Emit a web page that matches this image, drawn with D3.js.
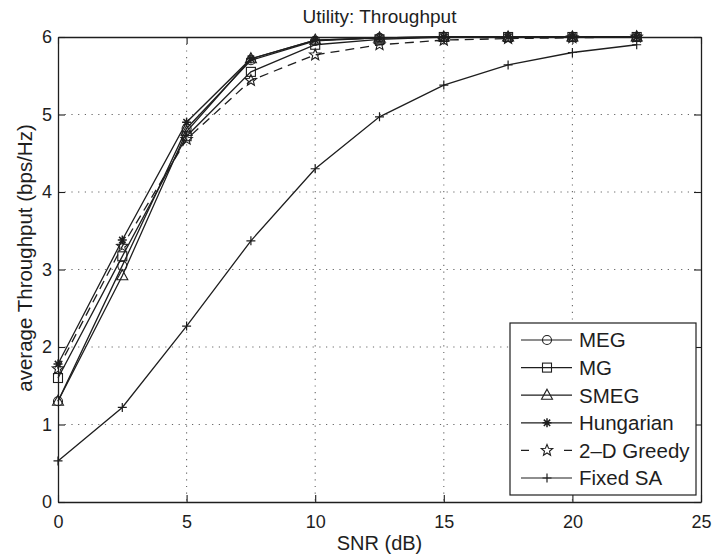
<!DOCTYPE html>
<html>
<head>
<meta charset="utf-8">
<script src="https://cdn.jsdelivr.net/npm/d3@7"></script>
<style>
  html, body { margin: 0; padding: 0; background: #fff; }
  svg { display: block; font-family: "Liberation Sans", Arial, sans-serif; }
</style>
</head>
<body>
<svg id="chart" width="716" height="560"></svg>
<script>
// SNR sample points (dB)
const snr = [0, 2.5, 5, 7.5, 10, 12.5, 15, 17.5, 20, 22.5];

// average throughput per scheme (bps/Hz)
const meg       = [1.30, 3.05, 4.82, 5.70, 5.95, 5.99, 6.00, 6.00, 6.00, 6.00];
const mg        = [1.60, 3.17, 4.72, 5.55, 5.90, 5.97, 6.00, 6.00, 6.00, 6.00];
const smeg      = [1.30, 2.92, 4.78, 5.72, 5.96, 5.99, 6.00, 6.00, 6.00, 6.00];
const hungarian = [1.78, 3.38, 4.90, 5.72, 5.96, 5.99, 6.00, 6.00, 6.00, 6.00];
const greedy2d  = [1.72, 3.30, 4.68, 5.44, 5.77, 5.90, 5.96, 5.98, 5.99, 6.00];
const fixedSA   = [0.53, 1.22, 2.27, 3.37, 4.30, 4.97, 5.38, 5.64, 5.80, 5.90];

const seriesNames = ["MEG", "MG", "SMEG", "Hungarian", "2\u2013D Greedy", "Fixed SA"];
const seriesValues = [meg, mg, smeg, hungarian, greedy2d, fixedSA];
const seriesMarkers = ["circle", "square", "triangle", "asterisk", "star", "plus"];
const seriesDashed = [false, false, false, false, true, false];

const xTicks = [0, 5, 10, 15, 20, 25];
const yTicks = [0, 1, 2, 3, 4, 5, 6];

const titleText = "Utility: Throughput";
const xLabelText = "SNR (dB)";
const yLabelText = "average Throughput (bps/Hz)";

const ink = "#1e1e1e";
const plotL = 58, plotR = 701, plotT = 37, plotB = 502;

const svg = d3.select("#chart");
const x = d3.scaleLinear().domain([0, 25]).range([plotL, plotR]);
const y = d3.scaleLinear().domain([0, 6]).range([plotB, plotT]);

// dotted grid
const grid = svg.append("g");
grid.selectAll("line.gx").data(xTicks.filter(t => t > 0 && t < 25)).join("line")
  .attr("x1", d => x(d)).attr("x2", d => x(d)).attr("y1", plotT).attr("y2", plotB)
  .attr("stroke", "#666").attr("stroke-width", 1.1).attr("stroke-dasharray", "1.2,5.5");
grid.selectAll("line.gy").data(yTicks.filter(t => t > 0 && t < 6)).join("line")
  .attr("y1", d => y(d)).attr("y2", d => y(d)).attr("x1", plotL).attr("x2", plotR)
  .attr("stroke", "#666").attr("stroke-width", 1.1).attr("stroke-dasharray", "1.2,5.5");

// axes with inward ticks on all four sides
const tickLen = 7;
const fmt = d3.format("d");
const axB = svg.append("g").attr("transform", `translate(0,${plotB})`)
  .call(d3.axisBottom(x).tickValues(xTicks).tickFormat(fmt).tickSizeInner(-tickLen).tickSizeOuter(0));
const axT = svg.append("g").attr("transform", `translate(0,${plotT})`)
  .call(d3.axisTop(x).tickValues(xTicks).tickSizeInner(-tickLen).tickSizeOuter(0).tickFormat(""));
const axL = svg.append("g").attr("transform", `translate(${plotL},0)`)
  .call(d3.axisLeft(y).tickValues(yTicks).tickFormat(fmt).tickSizeInner(-tickLen).tickSizeOuter(0).tickPadding(6));
const axR = svg.append("g").attr("transform", `translate(${plotR},0)`)
  .call(d3.axisRight(y).tickValues(yTicks).tickSizeInner(-tickLen).tickSizeOuter(0).tickFormat(""));
[axB, axT, axL, axR].forEach(a => {
  a.select(".domain").attr("stroke", ink).attr("stroke-width", 1.3);
  a.selectAll(".tick line").attr("stroke", ink).attr("stroke-width", 1.1);
  a.selectAll(".tick text").attr("fill", ink).attr("font-size", 18)
    .attr("font-family", "Liberation Sans, Arial, sans-serif");
});
axB.selectAll(".tick text").attr("y", 26).attr("dy", 0);

// marker shapes
function drawMarker(g, type, cx, cy) {
  const s = 4.5;
  if (type === "circle") {
    g.append("circle").attr("cx", cx).attr("cy", cy).attr("r", s)
      .attr("fill", "none").attr("stroke", ink).attr("stroke-width", 1.1);
  } else if (type === "square") {
    g.append("rect").attr("x", cx - s).attr("y", cy - s).attr("width", 2 * s).attr("height", 2 * s)
      .attr("fill", "none").attr("stroke", ink).attr("stroke-width", 1.1);
  } else if (type === "triangle") {
    g.append("path").attr("d", `M${cx},${cy - 6}L${cx + 5.5},${cy + 4}L${cx - 5.5},${cy + 4}Z`)
      .attr("fill", "none").attr("stroke", ink).attr("stroke-width", 1.1);
  } else if (type === "asterisk") {
    const p = [];
    for (let i = 0; i < 4; i++) {
      const a = i * Math.PI / 4;
      p.push(`M${cx - s * Math.cos(a)},${cy - s * Math.sin(a)}L${cx + s * Math.cos(a)},${cy + s * Math.sin(a)}`);
    }
    g.append("path").attr("d", p.join("")).attr("stroke", ink).attr("stroke-width", 1.5);
  } else if (type === "star") {
    const pts = [];
    for (let i = 0; i < 10; i++) {
      const r = i % 2 === 0 ? 6 : 2.6;
      const a = -Math.PI / 2 + i * Math.PI / 5;
      pts.push([cx + r * Math.cos(a), cy + r * Math.sin(a)]);
    }
    g.append("path").attr("d", "M" + pts.join("L") + "Z")
      .attr("fill", "none").attr("stroke", ink).attr("stroke-width", 1.1);
  } else if (type === "plus") {
    g.append("path").attr("d", `M${cx - s},${cy}L${cx + s},${cy}M${cx},${cy - s}L${cx},${cy + s}`)
      .attr("stroke", ink).attr("stroke-width", 1.2);
  }
}

const line = d3.line().x(d => x(d[0])).y(d => y(d[1]));
const plot = svg.append("g");
seriesValues.forEach((vals, i) => {
  const pts = snr.map((s, j) => [s, vals[j]]);
  plot.append("path").datum(pts).attr("d", line)
    .attr("fill", "none").attr("stroke", ink).attr("stroke-width", 1.3)
    .attr("stroke-dasharray", seriesDashed[i] ? "9,6" : null);
  const markerG = plot.append("g");
  pts.forEach(p => drawMarker(markerG, seriesMarkers[i], x(p[0]), y(p[1])));
});

// title and axis labels
svg.append("text").attr("x", (plotL + plotR) / 2).attr("y", 23).attr("text-anchor", "middle")
  .attr("font-size", 19).attr("fill", ink).text(titleText);
svg.append("text").attr("x", (plotL + plotR) / 2).attr("y", 550).attr("text-anchor", "middle")
  .attr("font-size", 20).attr("fill", ink).text(xLabelText);
svg.append("text").attr("transform", `translate(32,258) rotate(-90)`)
  .attr("text-anchor", "middle").attr("font-size", 20.5).attr("fill", ink).text(yLabelText);

// legend
const lg = svg.append("g");
lg.append("rect").attr("x", 510).attr("y", 323).attr("width", 186).attr("height", 172)
  .attr("fill", "#fff").attr("stroke", ink).attr("stroke-width", 1.2);
seriesNames.forEach((name, i) => {
  const ly = 340 + i * 27.6;
  lg.append("line").attr("x1", 521).attr("x2", 572).attr("y1", ly).attr("y2", ly)
    .attr("stroke", ink).attr("stroke-width", 1.2)
    .attr("stroke-dasharray", seriesDashed[i] ? "8,35" : null);
  drawMarker(lg, seriesMarkers[i], 547, ly);
  lg.append("text").attr("x", 579).attr("y", ly).attr("dy", "0.36em")
    .attr("font-size", 20.5).attr("fill", ink).text(name);
});
</script>
</body>
</html>
